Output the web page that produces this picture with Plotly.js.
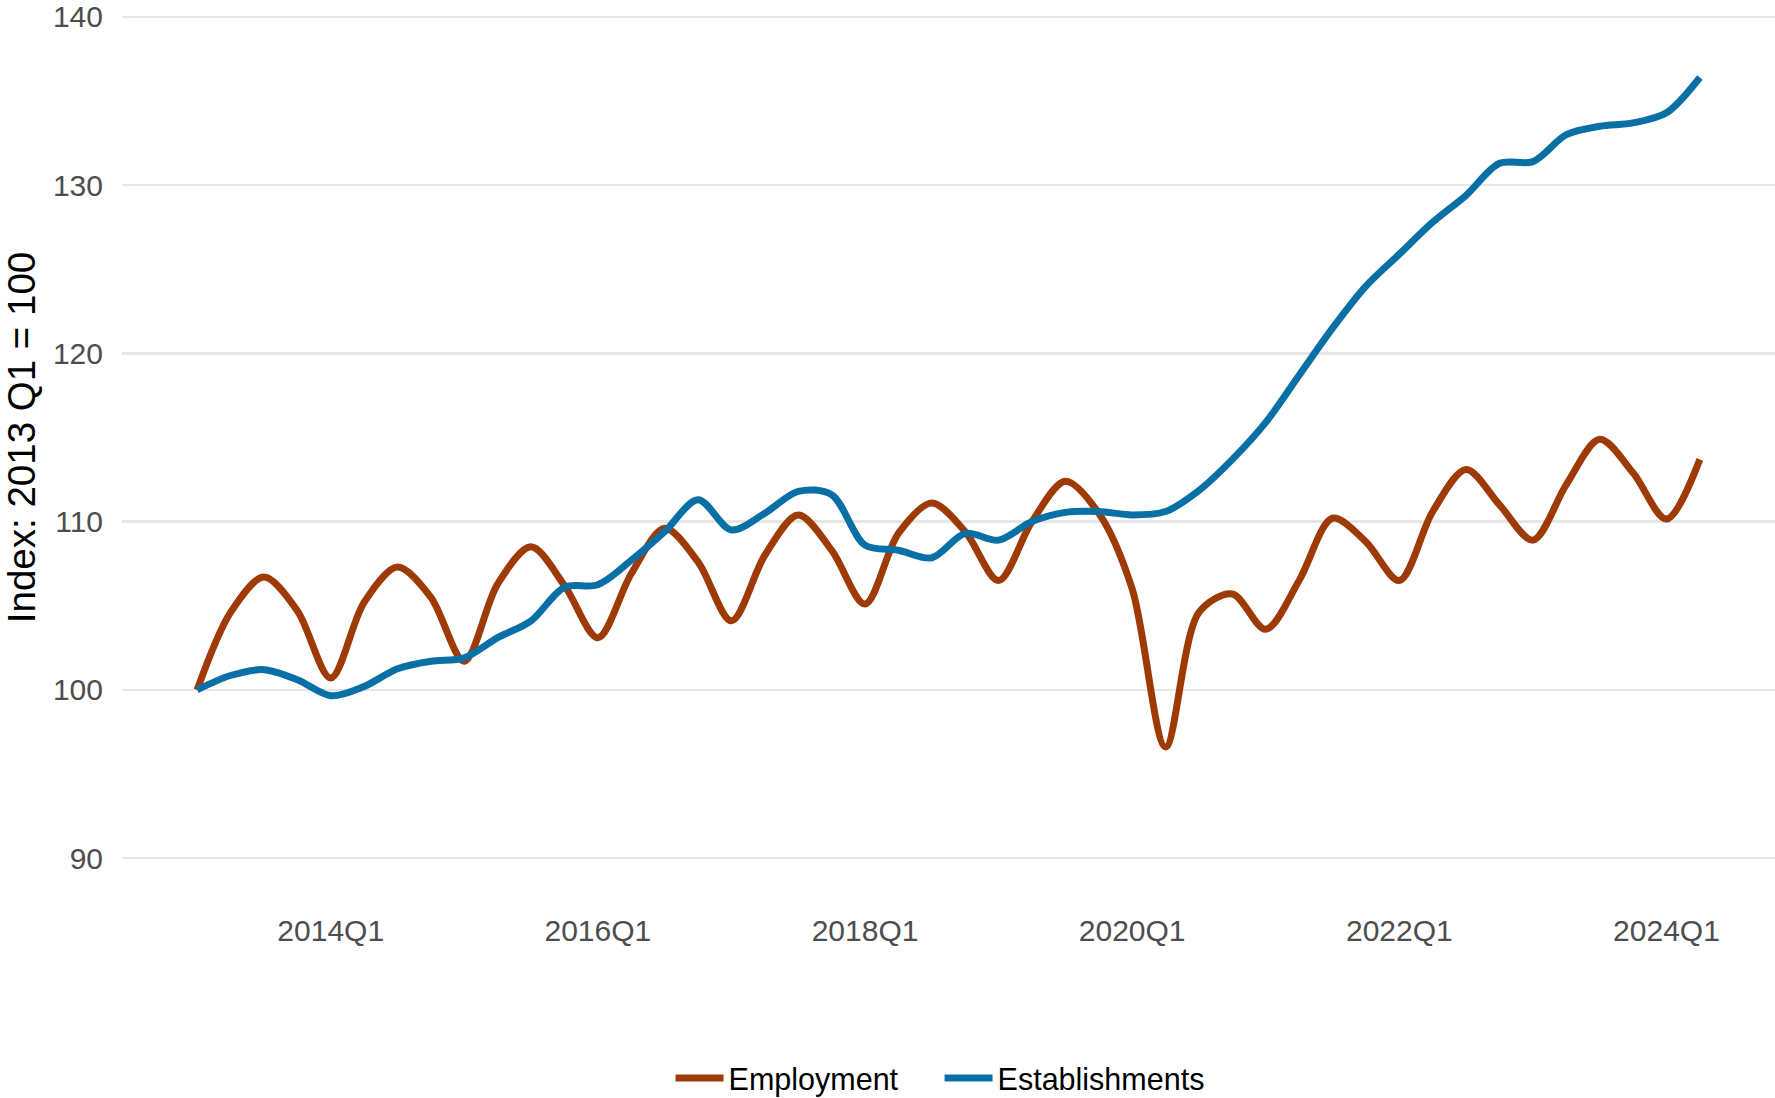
<!DOCTYPE html>
<html>
<head>
<meta charset="utf-8">
<script src="https://cdn.plot.ly/plotly-3.0.1.min.js"></script>
<style>
  html, body { margin: 0; padding: 0; background: #ffffff; }
  #chart { width: 1775px; height: 1098px; }
</style>
</head>
<body>
<div id="chart"></div>
<script>
// Quarters 2013Q1 .. 2024Q2
const quarters = [];
for (let y = 2013; y <= 2024; y++) {
  for (let q = 1; q <= 4; q++) {
    if (y === 2024 && q > 2) break;
    quarters.push(y + "Q" + q);
  }
}

const employment = [
  100.0, 104.6, 106.7, 104.7,
  100.7, 105.2, 107.3, 105.5,
  101.7, 106.3, 108.5, 106.2,
  103.1, 106.9, 109.6, 107.6,
  104.1, 108.0, 110.4, 108.3,
  105.1, 109.3, 111.1, 109.4,
  106.5, 110.0, 112.4, 110.5,
  106.0, 96.6, 104.6, 105.7,
  103.6, 106.5, 110.2, 108.8,
  106.5, 110.6, 113.1, 111.0,
  108.9, 112.2, 114.9, 112.9,
  110.15, 113.7
];

const establishments = [
  100.0, 100.85, 101.2, 100.6,
  99.65, 100.2, 101.25, 101.7,
  101.9, 103.1, 104.1, 106.1,
  106.25, 107.7, 109.4, 111.3,
  109.5, 110.5, 111.8, 111.6,
  108.6, 108.3, 107.85, 109.3,
  108.9, 110.0, 110.55, 110.6,
  110.4, 110.6, 111.85, 113.7,
  115.9, 118.7, 121.5, 124.0,
  125.9, 127.8, 129.4, 131.3,
  131.4, 133.0, 133.5, 133.7,
  134.3, 136.4
];

const xTickLabels = ["2014Q1", "2016Q1", "2018Q1", "2020Q1", "2022Q1", "2024Q1"];
const yTickValues = [90, 100, 110, 120, 130, 140];

const FONT = "Liberation Sans, Arial, Helvetica, sans-serif";

const traces = [
  {
    type: "scatter", mode: "lines", name: "Employment",
    x: quarters, y: employment,
    line: { color: "#9E3A06", width: 7, shape: "spline", smoothing: 0.9 }
  },
  {
    type: "scatter", mode: "lines", name: "Establishments",
    x: quarters, y: establishments,
    line: { color: "#0870A5", width: 7, shape: "spline", smoothing: 0.9 }
  }
];

const layout = {
  width: 1775, height: 1098,
  paper_bgcolor: "#ffffff", plot_bgcolor: "#ffffff",
  margin: { l: 122, r: 0, t: 3, b: 226 },
  font: { family: FONT, color: "#000000" },
  showlegend: true,
  legend: {
    orientation: "h",
    x: 0.4946, xanchor: "center",
    yref: "container", y: 0.018, yanchor: "middle",
    font: { family: FONT, size: 30.5, color: "#000000" },
    itemwidth: 48,
    entrywidth: 206,
    traceorder: "normal",
    bgcolor: "rgba(0,0,0,0)"
  },
  xaxis: {
    type: "category",
    range: [-2.25, 47.25],
    tickmode: "array",
    tickvals: xTickLabels,
    ticktext: xTickLabels,
    showgrid: false, zeroline: false, showline: false,
    ticks: "",
    ticklabelstandoff: 38,
    tickfont: { family: FONT, size: 30, color: "#4D4D4D" }
  },
  yaxis: {
    range: [89.17, 140.83],
    tickmode: "array",
    tickvals: yTickValues,
    ticktext: yTickValues.map(String),
    showgrid: true, gridcolor: "#E6E6E6", gridwidth: 2.5,
    zeroline: false, showline: false,
    ticks: "",
    ticklabelstandoff: 18,
    ticklabeloverflow: "allow",
    tickfont: { family: FONT, size: 30, color: "#4D4D4D" },
    title: {
      text: "Index: 2013 Q1 = 100",
      font: { family: FONT, size: 38.5, color: "#000000" },
      standoff: 14
    }
  }
};

Plotly.newPlot("chart", traces, layout, { displayModeBar: false, staticPlot: true });
</script>
</body>
</html>
